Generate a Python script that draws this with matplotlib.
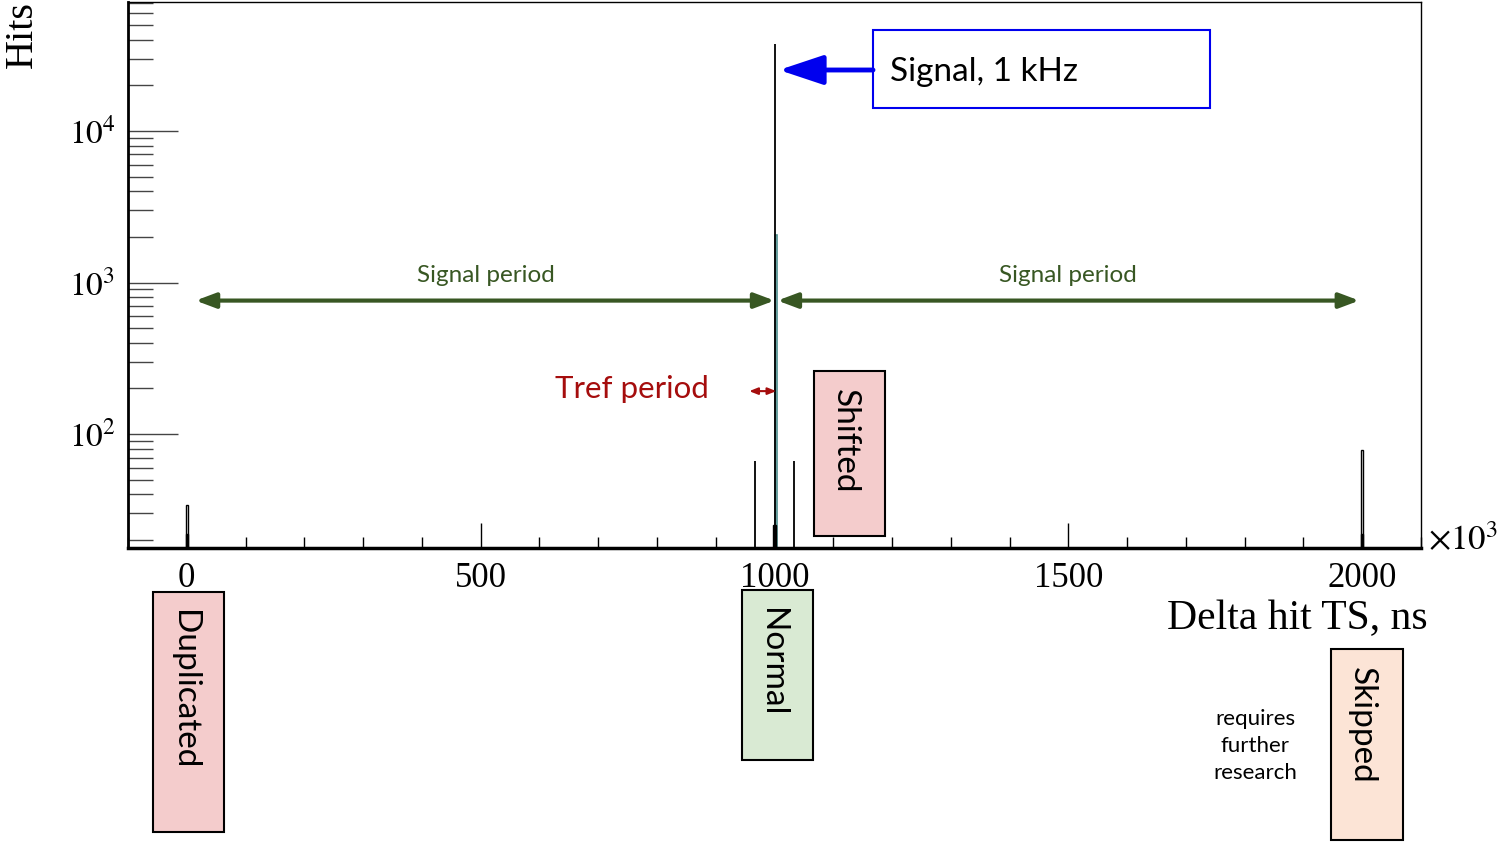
import matplotlib
matplotlib.use("Agg")
import matplotlib.pyplot as plt
from matplotlib.patches import Rectangle, FancyArrowPatch

# Delta hit timestamps (x10^3 ns) and hit counts per bin
spike_ts = [967, 1000, 1033]
spike_hits = [66, 37500, 66]
hollow_ts = [0, 2000]
hollow_hits = [34, 78]
base_ts = [0, 1000, 2000]
base_hits = [22, 25, 22]
side_ts = [1002]
side_hits = [2060]

x_ticks = [0, 500, 1000, 1500, 2000]
y_ticks = [1e2, 1e3, 1e4]

W, H = 1499, 843
plt.rcParams['mathtext.fontset'] = 'stix'
SERIF = 'Liberation Serif'
SANS = 'Lato'

fig = plt.figure(figsize=(W / 100, H / 100), dpi=100)


def px(x, y):
    return x / W, 1 - y / H


ax = fig.add_axes([128 / W, 1 - 548 / H, (1421 - 128) / W, (548 - 2) / H])
ax.set_yscale('log')
ax.set_xlim(-100, 2100)
ax.set_ylim(17.7, 71000)

ymin = ax.get_ylim()[0]
ax.vlines(spike_ts, ymin, spike_hits, color='black', lw=1.3, zorder=3)
ax.bar(hollow_ts, hollow_hits, width=4, color='white', edgecolor='black', lw=1.0, zorder=3)
ax.bar(side_ts, side_hits, width=4, color='#cfeeee', edgecolor='#4f8f8f', lw=1.2, zorder=2)
ax.bar(base_ts, base_hits, width=4, color='black', edgecolor='black', lw=1.0, zorder=4)

# ROOT-like frame: ticks inside, bottom/left only
for s in ['top', 'right']:
    ax.spines[s].set_linewidth(1.0)
ax.spines['bottom'].set_linewidth(2.5)
ax.spines['left'].set_linewidth(2.0)
ax.set_xticks(x_ticks)
ax.set_xticks(range(-100, 2101, 100), minor=True)
ax.tick_params(axis='x', which='major', direction='in', length=18, width=1.0,
               pad=10, labelsize=25)
ax.tick_params(axis='x', which='minor', direction='in', length=8, width=1.0)
ax.set_yticks(y_ticks)
ax.set_yticklabels([r'$10^{2}$', r'$10^{3}$', r'$10^{4}$'])
ax.yaxis.set_minor_locator(matplotlib.ticker.LogLocator(base=10, subs=range(2, 10)))
ax.yaxis.set_minor_formatter(matplotlib.ticker.NullFormatter())
ax.tick_params(axis='y', which='major', direction='in', length=36, width=1.0,
               color='#444444', labelsize=24, pad=9)
ax.tick_params(axis='y', which='minor', direction='in', length=18, width=1.0,
               color='#444444')
for lab in ax.get_xticklabels() + ax.get_yticklabels():
    lab.set_family(SERIF)

fig.text(*px(22, 35), 'Hits', rotation=90, ha='center', va='center',
         family=SERIF, fontsize=29)
fig.text(*px(1428, 619), 'Delta hit TS, ns', ha='right', va='center',
         family=SERIF, fontsize=30)
fig.text(*px(1428, 540), r'$\times10^{3}$', ha='left', va='center', fontsize=25)

green = '#385723'
red = '#a50d0d'

# signal period arrows and tref arrow
for x0, x1 in [(15, 1000), (1005, 1995)]:
    ax.annotate('', xy=(x1, 760), xytext=(x0, 760),
                arrowprops=dict(arrowstyle='<|-|>,head_length=1.2,head_width=0.45',
                                color=green, lw=3, shrinkA=0, shrinkB=0))
ax.annotate('', xy=(1003, 192), xytext=(957, 192),
            arrowprops=dict(arrowstyle='<|-|>,head_length=0.5,head_width=0.2',
                            color=red, lw=1.5, shrinkA=0, shrinkB=0))
fig.text(*px(486, 276), 'Signal period', ha='center', va='center',
         color=green, family=SANS, fontsize=17.5)
fig.text(*px(1068, 276), 'Signal period', ha='center', va='center',
         color=green, family=SANS, fontsize=17.5)
fig.text(*px(709, 389), 'Tref period', ha='right', va='center',
         color=red, family=SANS, fontsize=22.5)

# signal label box with arrow
fig.add_artist(Rectangle(px(873, 108), 337 / W, 78 / H, transform=fig.transFigure,
                         facecolor='white', edgecolor='#0000ee', lw=1.5))
fig.text(*px(890, 72), 'Signal, 1 kHz', ha='left', va='center',
         family=SANS, fontsize=24)
fig.add_artist(FancyArrowPatch(px(873, 70), px(779, 70), transform=fig.transFigure,
                               arrowstyle='-|>,head_length=1.35,head_width=0.45',
                               mutation_scale=20, color='#0000ee', lw=3.5,
                               shrinkA=0, shrinkB=0))

# category boxes
boxes = [
    ('Shifted', 814, 371, 885, 536, '#f4cccc'),
    ('Duplicated', 153, 592, 224, 832, '#f4cccc'),
    ('Normal', 742, 590, 813, 760, '#d9ead3'),
    ('Skipped', 1331, 649, 1403, 840, '#fce4d6'),
]
for label, x0, y0, x1, y1, fc in boxes:
    fig.add_artist(Rectangle(px(x0, y1), (x1 - x0) / W, (y1 - y0) / H,
                             transform=fig.transFigure, facecolor=fc,
                             edgecolor='black', lw=1.5))
    fig.text(*px((x0 + x1) / 2 - 5, y0 + 18), label, rotation=-90,
             ha='center', va='top', family=SANS, fontsize=24)

fig.text(*px(1255, 746), 'requires\nfurther\nresearch', ha='center', va='center',
         family=SANS, fontsize=16, linespacing=1.45)

fig.savefig('out.png', dpi=100)
